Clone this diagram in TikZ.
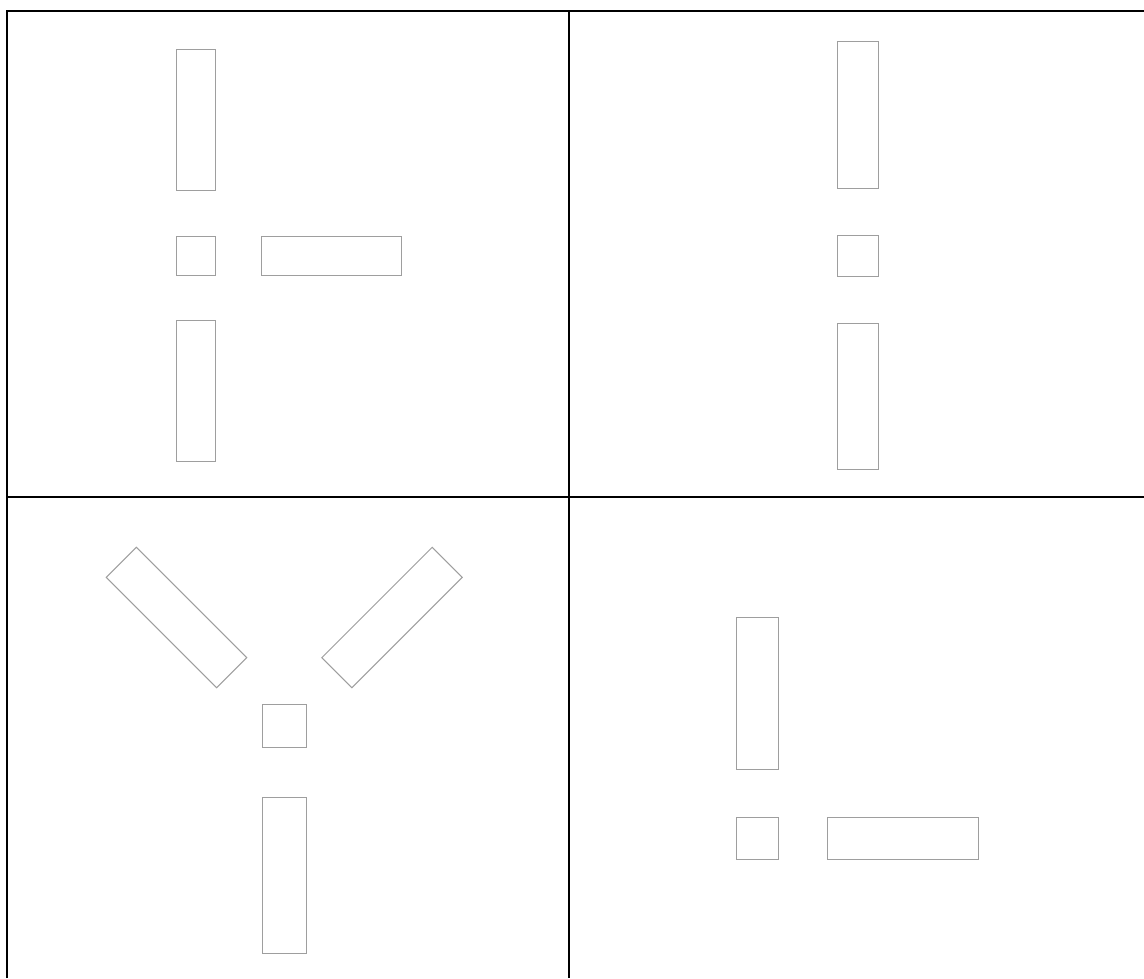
\documentclass[tikz,border=0pt]{standalone}
\begin{document}
\begin{tikzpicture}[x=1pt,y=-1pt,
  box/.style={draw=black!38,line width=1pt,inner sep=0pt,outer sep=0pt,fill=white},
  grid/.style={draw=black,line width=2.2pt}]
\useasboundingbox (0,0) rectangle (1144,978);
% table border and grid
\draw[grid] (7,978) -- (7,11) -- (1144,11);
\draw[grid] (569,11) -- (569,978);
\draw[grid] (7,497) -- (1144,497);
% top-left panel
\node[box,minimum width=39pt,minimum height=141pt] (tlA) at (195.5,119.5) {};
\node[box,minimum width=39pt,minimum height=39pt] (tlC) at (195.5,255.5) {};
\node[box,minimum width=140pt,minimum height=39pt] (tlR) at (331,255.5) {};
\node[box,minimum width=39pt,minimum height=141pt] (tlB) at (195.5,390.5) {};
% top-right panel
\node[box,minimum width=41pt,minimum height=147pt] (trA) at (857.5,114.5) {};
\node[box,minimum width=41pt,minimum height=41pt] (trC) at (857.5,255.5) {};
\node[box,minimum width=41pt,minimum height=146pt] (trB) at (857.5,396) {};
% bottom-left panel
\node[box,minimum width=156pt,minimum height=42.5pt,rotate=-45] (blL) at (176.5,617.5) {};
\node[box,minimum width=156pt,minimum height=42.5pt,rotate=45] (blR) at (392,617.5) {};
\node[box,minimum width=44pt,minimum height=43pt] (blC) at (284,725.5) {};
\node[box,minimum width=44pt,minimum height=156pt] (blB) at (284,875) {};
% bottom-right panel
\node[box,minimum width=42pt,minimum height=152pt] (brA) at (757.7,693) {};
\node[box,minimum width=42pt,minimum height=42pt] (brC) at (757.7,838) {};
\node[box,minimum width=151pt,minimum height=42pt] (brR) at (903,838) {};
\end{tikzpicture}
\end{document}
